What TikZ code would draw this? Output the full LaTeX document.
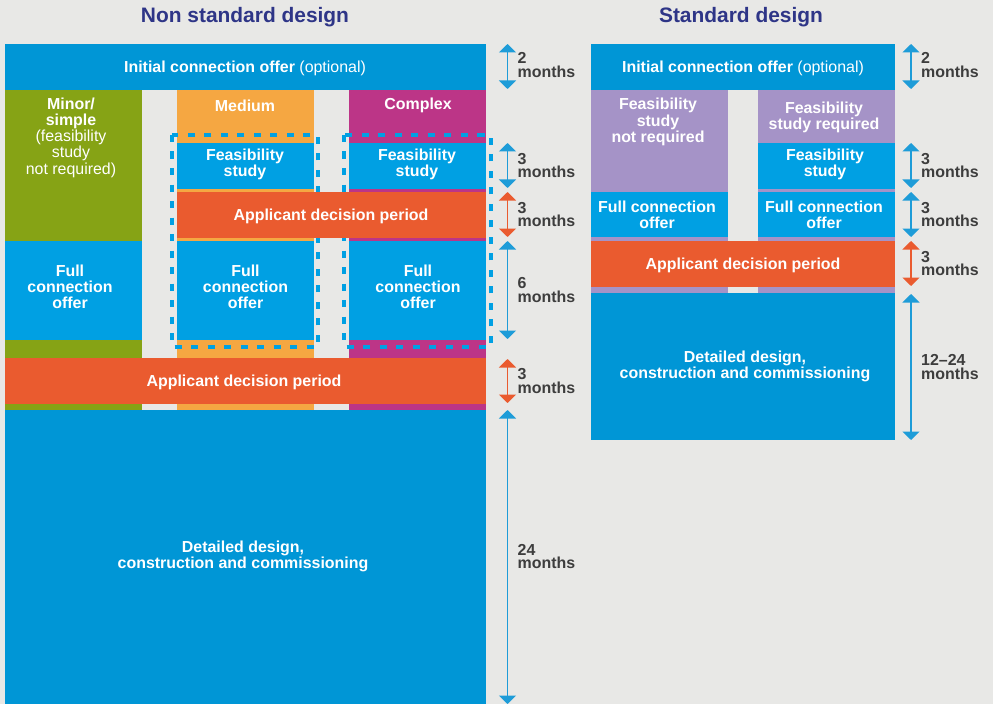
\documentclass[tikz,border=0pt]{standalone}
\usepackage{fontspec}
\setmainfont{Liberation Sans}
\usetikzlibrary{arrows.meta}
\definecolor{bg}{HTML}{E8E8E6}
\definecolor{navy}{HTML}{2E3587}
\definecolor{darkblue}{HTML}{0096D6}
\definecolor{lightblue}{HTML}{00A0E3}
\definecolor{arrowblue}{HTML}{1E9CD8}
\definecolor{green}{HTML}{86A315}
\definecolor{medorange}{HTML}{F5A742}
\definecolor{magenta}{HTML}{BC3587}
\definecolor{redorange}{HTML}{EA5B2F}
\definecolor{purple}{HTML}{A593C7}
\definecolor{labelgray}{HTML}{3D3D3D}
\tikzset{
  lbl/.style={text=white, font=\fontsize{16}{16.3}\selectfont\bfseries, align=center, inner sep=0pt},
  lblr/.style={text=white, font=\fontsize{16}{16.3}\selectfont, align=center, inner sep=0pt},
  mlbl/.style={text=labelgray, font=\fontsize{16}{14}\selectfont\bfseries, align=left, anchor=west, inner sep=0pt},
  ttl/.style={text=navy, font=\fontsize{21}{24}\selectfont\bfseries, inner sep=0pt},
  dur/.style={line width=1.6bp, {Triangle[width=17bp,length=8.5bp]}-{Triangle[width=17bp,length=8.5bp]}},
  dashbox/.style={draw=lightblue, line width=4bp, dash pattern=on 7bp off 9.5bp},
}
\begin{document}
\begin{tikzpicture}[x=1bp,y=-1bp]
\fill[bg] (0,0) rectangle (993,704);
\useasboundingbox (0,0) rectangle (993,704);

% ---------------- Non standard design ----------------
\node[ttl] (t1) at (245,17) {Non standard design};
\fill[darkblue] (5,44) rectangle (486,90);
\fill[green] (5,90) rectangle (142,410);
\fill[medorange] (177,90) rectangle (314,410);
\fill[magenta] (349,90) rectangle (486,410);
\fill[lightblue] (177,143) rectangle (314,189);
\fill[lightblue] (349,143) rectangle (486,189);
\draw[dashbox] (172,135) rectangle (318,347);
\draw[dashbox] (344,135) rectangle (491,347);
\fill[redorange] (177,192) rectangle (486,238);
\fill[lightblue] (5,241) rectangle (142,340);
\fill[lightblue] (177,241) rectangle (314,340);
\fill[lightblue] (349,241) rectangle (486,340);
\fill[redorange] (5,358) rectangle (486,404);
\fill[darkblue] (5,410) rectangle (486,704);

\node[lblr] (ico1) at (245,68) {\textbf{Initial connection offer} (optional)};
\node[lblr] (minor) at (71,137.5) {\textbf{Minor/}\\\textbf{simple}\\(feasibility\\study\\not required)};
\node[lbl] (medium) at (245,105.5) {Medium};
\node[lbl] (complex) at (418,105.5) {Complex};
\node[lbl] (fsm) at (245,164) {Feasibility\\study};
\node[lbl] (fsc) at (417,164) {Feasibility\\study};
\node[lbl] (adp1) at (331,216) {Applicant decision period};
\node[lbl] (fco1) at (70,287) {Full\\connection\\offer};
\node[lbl] (fco2) at (245.5,287) {Full\\connection\\offer};
\node[lbl] (fco3) at (418,287) {Full\\connection\\offer};
\node[lbl] (adp2) at (244,382) {Applicant decision period};
\node[lbl] (dd1) at (243,556.5) {Detailed design,\\construction and commissioning};

\coordinate (l1a) at (507.5,44);  \coordinate (l1b) at (507.5,89);
\coordinate (l2a) at (507.5,143); \coordinate (l2b) at (507.5,188);
\coordinate (l3a) at (507.5,192); \coordinate (l3b) at (507.5,237);
\coordinate (l4a) at (507.5,241); \coordinate (l4b) at (507.5,339);
\coordinate (l5a) at (507.5,359); \coordinate (l5b) at (507.5,403);
\coordinate (l6a) at (507.5,410); \coordinate (l6b) at (507.5,704);
\draw[dur, arrowblue] (l1a) -- (l1b);
\draw[dur, arrowblue] (l2a) -- (l2b);
\draw[dur, redorange] (l3a) -- (l3b);
\draw[dur, arrowblue] (l4a) -- (l4b);
\draw[dur, redorange] (l5a) -- (l5b);
\draw[dur, arrowblue] (l6a) -- (l6b);
\node[mlbl] (m1) at (517.5,65) {2\\months};
\node[mlbl] (m2) at (517.5,165.5) {3\\months};
\node[mlbl] (m3) at (517.5,214.5) {3\\months};
\node[mlbl] (m4) at (517.5,290) {6\\months};
\node[mlbl] (m5) at (517.5,381) {3\\months};
\node[mlbl] (m6) at (517.5,556.5) {24\\months};

% ---------------- Standard design ----------------
\node[ttl] (t2) at (741,17) {Standard design};
\fill[darkblue] (591,44) rectangle (894.5,90);
\fill[purple] (591,90) rectangle (728,293);
\fill[purple] (758,90) rectangle (894.5,293);
\fill[lightblue] (758,143) rectangle (894.5,189);
\fill[lightblue] (591,192) rectangle (728,237);
\fill[lightblue] (758,192) rectangle (894.5,237);
\fill[redorange] (591,241) rectangle (894.5,287);
\fill[darkblue] (591,293) rectangle (894.5,440);

\node[lblr] (ico2) at (743,68) {\textbf{Initial connection offer} (optional)};
\node[lbl] (fnr) at (658,122) {Feasibility\\study\\not required};
\node[lbl] (fr) at (824,117) {Feasibility\\study required};
\node[lbl] (fs2) at (825,164) {Feasibility\\study};
\node[lbl] (fco4) at (657,214.5) {Full connection\\offer};
\node[lbl] (fco5) at (824,214.5) {Full connection\\offer};
\node[lbl] (adp3) at (743,265.5) {Applicant decision period};
\node[lbl] (dd2) at (745,366.5) {Detailed design,\\construction and commissioning};

\coordinate (r1a) at (911,44);  \coordinate (r1b) at (911,89);
\coordinate (r2a) at (911,143); \coordinate (r2b) at (911,188);
\coordinate (r3a) at (911,192); \coordinate (r3b) at (911,237);
\coordinate (r4a) at (911,241); \coordinate (r4b) at (911,286);
\coordinate (r5a) at (911,294); \coordinate (r5b) at (911,440);
\draw[dur, arrowblue] (r1a) -- (r1b);
\draw[dur, arrowblue] (r2a) -- (r2b);
\draw[dur, arrowblue] (r3a) -- (r3b);
\draw[dur, redorange] (r4a) -- (r4b);
\draw[dur, arrowblue] (r5a) -- (r5b);
\node[mlbl] (n1) at (921,65) {2\\months};
\node[mlbl] (n2) at (921,165.5) {3\\months};
\node[mlbl] (n3) at (921,214.5) {3\\months};
\node[mlbl] (n4) at (921,263.5) {3\\months};
\node[mlbl] (n5) at (921,367) {12–24\\months};
\end{tikzpicture}
\end{document}
